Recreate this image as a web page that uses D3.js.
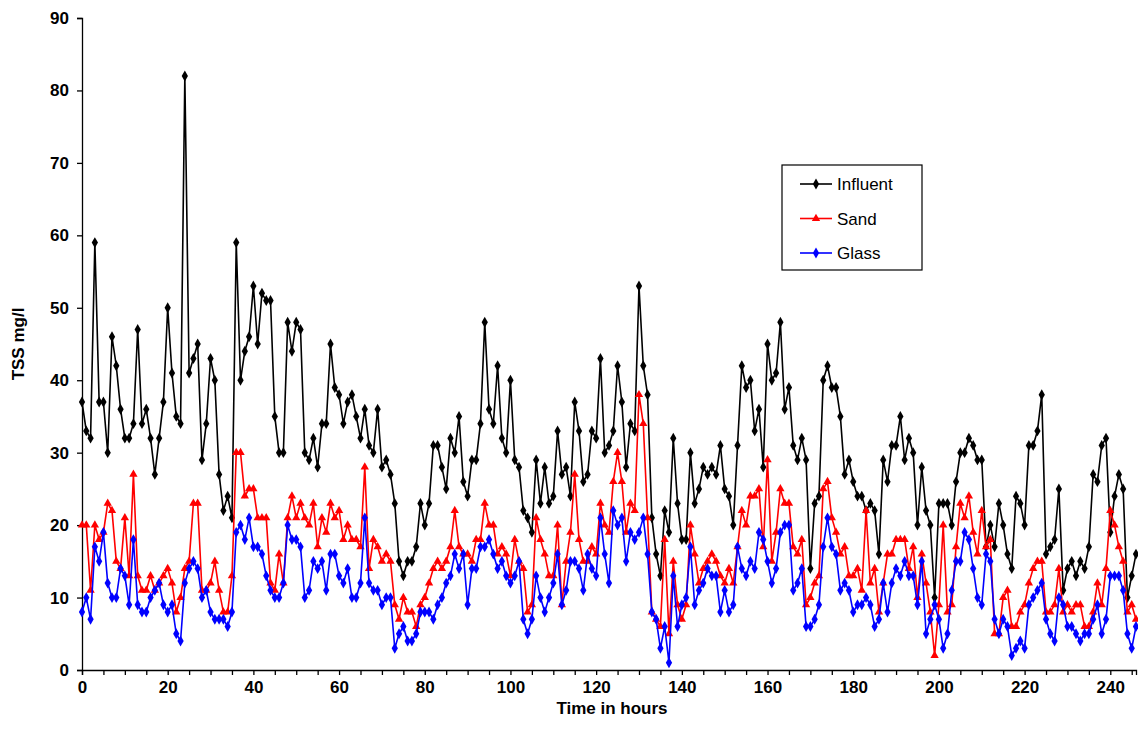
<!DOCTYPE html>
<html>
<head>
<meta charset="utf-8">
<script src="https://cdn.jsdelivr.net/npm/d3@7"></script>
<style>
body { margin: 0; background: #fff; }
text { font-family: "Liberation Sans", Arial, sans-serif; }
</style>
</head>
<body>
<div id="chart"></div>
<script>
let width = 1138
let height = 749
let margin = {top: 18, right: 2, bottom: 79, left: 82}

// hourly TSS readings, mg/l
let influent = [37,33,32,59,37,37,30,46,42,36, 32,32,34,47,34,36,32,27,32,37,
	50,41,35,34,82,41,43,45,29,34, 43,40,27,22,24,21,59,40,44,46,
	53,45,52,51,51,35,30,30,48,44, 48,47,30,29,32,28,34,34,45,39,
	38,34,37,38,35,32,36,31,30,36, 28,29,27,23,15,13,15,15,17,23,
	20,23,31,31,28,25,32,30,35,26, 24,29,29,34,48,36,34,42,32,30,
	40,29,28,22,21,19,29,23,28,23, 24,33,27,28,24,37,33,26,27,33,
	32,43,30,31,33,42,37,28,34,33, 53,42,38,21,16,13,22,19,32,23,
	18,18,30,23,25,28,27,28,27,31, 25,24,20,31,42,39,40,33,36,28,
	45,40,41,48,36,39,31,29,32,29, 14,23,24,40,42,39,39,35,27,29,
	26,24,24,22,23,22,16,29,26,31, 31,35,29,32,30,20,28,22,20,10,
	23,23,23,20,26,30,30,32,31,29, 29,17,20,17,23,20,16,14,24,23,
	20,31,31,33,38,16,17,18,25,11, 14,15,13,15,14,17,27,26,31,32,
	19,24,27,25,10,13,16]
let sand = [20,20,11,20,18,19,23,22,15,14, 21,13,27,13,11,11,13,11,12,13,
	14,12,8,10,14,15,23,23,11,11, 12,15,11,8,8,13,30,30,24,25,
	25,21,21,21,12,11,16,12,21,24, 21,23,21,20,23,17,21,19,23,21,
	22,18,20,18,18,17,28,14,18,17, 15,16,15,9,7,10,8,8,6,9,
	10,12,14,15,14,15,17,22,17,16, 16,15,18,18,23,20,20,16,17,16,
	13,18,15,14,8,9,21,18,16,13, 13,20,9,15,19,27,18,15,15,17,
	16,23,20,19,26,30,26,19,23,22, 38,34,21,8,7,6,18,5,15,9,
	7,9,20,16,12,14,15,16,15,13, 12,14,12,17,22,20,24,24,25,17,
	29,15,19,25,23,23,17,16,18,9, 10,12,13,25,26,21,19,16,17,13,
	13,14,11,22,12,14,8,12,16,16, 18,18,18,14,17,10,16,12,8,2,
	9,20,8,9,17,23,21,24,19,16, 22,17,18,5,5,10,11,6,6,8,
	9,12,14,15,15,8,8,9,14,8, 9,8,9,9,6,6,8,12,9,14,
	22,20,17,15,8,9,7]
let glass = [8,10,7,17,15,19,12,10,10,14, 13,9,18,9,8,8,10,11,12,9,
	8,9,5,4,12,14,15,14,10,11, 8,7,7,7,6,8,19,20,18,21,
	17,17,16,13,11,10,10,12,20,18, 18,17,10,11,15,14,15,11,16,16,
	13,12,14,10,10,12,21,12,11,11, 9,10,10,3,5,6,4,4,5,8,
	8,8,7,9,10,12,13,16,14,16, 9,14,14,17,17,18,16,14,15,13,
	12,13,15,7,5,7,13,10,8,10, 12,16,9,11,15,15,14,11,16,14,
	13,21,16,12,22,20,21,15,19,18, 19,21,16,8,7,3,6,1,13,6,
	9,10,17,9,11,12,14,13,13,8, 11,8,9,17,14,13,15,14,19,18,
	15,12,14,19,20,20,11,12,14,6, 6,7,9,17,21,17,16,11,12,11,
	8,9,9,10,9,6,7,12,8,12, 14,13,15,13,13,9,15,5,7,9,
	7,3,5,11,15,15,19,18,14,10, 9,16,15,7,5,7,6,2,3,4,
	3,9,10,11,12,7,5,4,10,9, 6,6,5,4,5,5,7,9,5,7,
	13,13,13,11,5,3,6]

let seriesNames = ["Influent", "Sand", "Glass"]
let seriesColors = ["#000000", "#ff0000", "#0000ff"]
let seriesShapes = [d3.symbolDiamond, d3.symbolTriangle, d3.symbolDiamond]
let yTicks = [0,10,20,30,40,50,60,70,80,90]
let xTicks = [0,20,40,60,80,100,120,140,160,180,200,220,240]

let svg = d3.select("#chart")
	.append("svg")
	.attr("width", width)
	.attr("height", height)

let x = d3.scaleLinear()
	.domain([0, 246])
	.range([margin.left, width - margin.right])
let y = d3.scaleLinear()
	.domain([0, 90])
	.range([height - margin.bottom, margin.top])

// axes
let xAxis = svg.append("g")
	.attr("transform", "translate(0," + y(0) + ")")
	.call(d3.axisBottom(x).tickValues(d3.range(0, 247, 5)).tickSize(5)
		.tickFormat(d => xTicks.includes(d) ? d : ""))
let yAxis = svg.append("g")
	.attr("transform", "translate(" + x(0) + ",0)")
	.call(d3.axisLeft(y).tickValues(yTicks).tickSize(5))

svg.selectAll(".domain, .tick line")
	.attr("stroke", "#000")
	.attr("stroke-width", 1.3)
svg.selectAll(".tick text")
	.attr("font-family", "Liberation Sans, Arial, sans-serif")
	.attr("font-size", 17)
	.attr("font-weight", "bold")
	.attr("fill", "#000")
xAxis.selectAll(".tick text").attr("dy", "0.9em")
yAxis.selectAll(".tick text").attr("x", -13)

// axis titles
svg.append("text")
	.attr("x", 612)
	.attr("y", 714)
	.attr("text-anchor", "middle")
	.attr("font-size", 17)
	.attr("font-weight", "bold")
	.text("Time in hours")
svg.append("text")
	.attr("transform", "translate(24," + y(45) + ") rotate(-90)")
	.attr("text-anchor", "middle")
	.attr("font-size", 17)
	.attr("font-weight", "bold")
	.text("TSS mg/l")

// lines and markers
let line = d3.line()
	.x((d, i) => x(i))
	.y(d => y(d))

let allSeries = [influent, sand, glass]
allSeries.forEach(function(data, s) {
	svg.append("path")
		.datum(data)
		.attr("d", line)
		.attr("fill", "none")
		.attr("stroke", seriesColors[s])
		.attr("stroke-width", 1.6)
	let size = s == 1 ? 30 : 34
	svg.append("g").selectAll("path")
		.data(data)
		.enter()
		.append("path")
		.attr("d", d3.symbol().type(seriesShapes[s]).size(size))
		.attr("transform", (d, i) => "translate(" + x(i) + "," + y(d) + ")")
		.attr("fill", seriesColors[s])
})

// legend
let legend = svg.append("g")
	.attr("transform", "translate(782,165)")
legend.append("rect")
	.attr("width", 140)
	.attr("height", 105)
	.attr("fill", "#fff")
	.attr("stroke", "#000")
	.attr("stroke-width", 1.2)
seriesNames.forEach(function(name, s) {
	let ly = 19 + s * 34.5
	legend.append("line")
		.attr("x1", 18).attr("x2", 50)
		.attr("y1", ly).attr("y2", ly)
		.attr("stroke", seriesColors[s])
		.attr("stroke-width", 1.6)
	legend.append("path")
		.attr("d", d3.symbol().type(seriesShapes[s]).size(s == 1 ? 30 : 34))
		.attr("transform", "translate(34," + ly + ")")
		.attr("fill", seriesColors[s])
	legend.append("text")
		.attr("x", 55)
		.attr("y", ly + 6)
		.attr("font-size", 17)
		.text(name)
})
</script>
</body>
</html>
